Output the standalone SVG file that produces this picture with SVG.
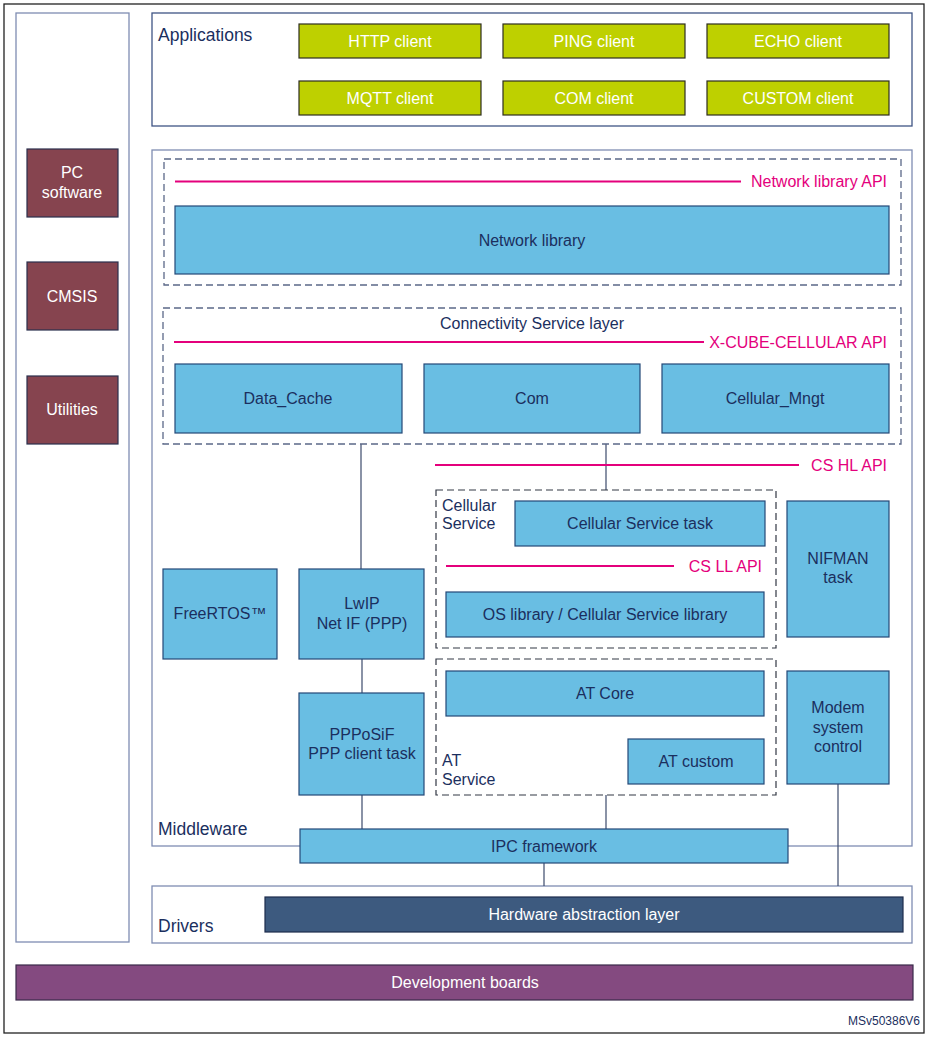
<svg xmlns="http://www.w3.org/2000/svg" width="929" height="1037" viewBox="0 0 929 1037">
<style>
text{font-family:"Liberation Sans",Arial,sans-serif;font-size:16px;fill:#1b2f5e}
.c{text-anchor:middle}
.e{text-anchor:end}
.w{fill:#ffffff}
.p{fill:#e4007c}
.big{font-size:17.5px}
.cont{fill:#ffffff;stroke:#7f8db2;stroke-width:1.3}
.app{fill:#ffffff;stroke:#3f5585;stroke-width:1.3}
.dash{fill:none;stroke:#5b6888;stroke-width:1.3;stroke-dasharray:7 4}
.dashk{fill:none;stroke:#333844;stroke-width:1.2;stroke-dasharray:7 4}
.blue{fill:#69bee3;stroke:#234877;stroke-width:1.2}
.green{fill:#bed000;stroke:#2e2e1e;stroke-width:1.2}
.mar{fill:#86444f;stroke:#2b2f4d;stroke-width:1.2}
.api{stroke:#e4007c;stroke-width:2}
.ln{stroke:#3c4a6c;stroke-width:1.2;fill:none}
</style>
<rect x="4" y="4" width="920" height="1029" fill="#ffffff" stroke="#222" stroke-width="1.3"/>

<g id="left-panel">
<rect x="16" y="13" width="113" height="929" class="cont"/>
</g>
<g id="pc-software"><rect x="27" y="149" width="91" height="68" class="mar"/><text class="c w" x="72" y="178">PC</text><text class="c w" x="72" y="198">software</text></g>
<g id="cmsis"><rect x="27" y="262" width="91" height="68" class="mar"/><text class="c w" x="72" y="302">CMSIS</text></g>
<g id="utilities"><rect x="27" y="376" width="91" height="68" class="mar"/><text class="c w" x="72" y="415">Utilities</text></g>

<g id="applications">
<rect x="152" y="13" width="760" height="113" class="app"/>
<text class="big" x="158" y="41">Applications</text>
</g>
<g id="http"><rect x="299" y="24" width="182" height="34" class="green"/><text class="c w" x="390" y="47">HTTP client</text></g>
<g id="ping"><rect x="503" y="24" width="182" height="34" class="green"/><text class="c w" x="594" y="47">PING client</text></g>
<g id="echo"><rect x="707" y="24" width="182" height="34" class="green"/><text class="c w" x="798" y="47">ECHO client</text></g>
<g id="mqtt"><rect x="299" y="81" width="182" height="34" class="green"/><text class="c w" x="390" y="104">MQTT client</text></g>
<g id="com-client"><rect x="503" y="81" width="182" height="34" class="green"/><text class="c w" x="594" y="104">COM client</text></g>
<g id="custom"><rect x="707" y="81" width="182" height="34" class="green"/><text class="c w" x="798" y="104">CUSTOM client</text></g>

<g id="middleware">
<rect x="152" y="150" width="760" height="696" class="cont"/>
<text class="big" x="158" y="835">Middleware</text>
</g>

<g id="drivers">
<rect x="152" y="886" width="760" height="57" class="cont"/>
<text class="big" x="158" y="932">Drivers</text>
</g>

<g id="connectors">
<line x1="361" y1="444" x2="361" y2="569" class="ln"/>
<line x1="606" y1="444" x2="606" y2="490" class="ln"/>
<line x1="362" y1="659" x2="362" y2="693" class="ln"/>
<line x1="362" y1="795" x2="362" y2="829" class="ln"/>
<line x1="606" y1="795" x2="606" y2="829" class="ln"/>
<line x1="544" y1="863" x2="544" y2="886" class="ln"/>
<line x1="838" y1="784" x2="838" y2="886" class="ln"/>
</g>

<g id="network-library-layer">
<rect x="164" y="159" width="737" height="126" class="dash"/>
<line x1="175" y1="181.5" x2="741" y2="181.5" class="api"/>
<text class="e p" x="887" y="187">Network library API</text>
</g>
<g id="network-library"><rect x="175" y="206" width="714" height="68" class="blue"/><text class="c" x="532" y="245.5">Network library</text></g>

<g id="connectivity-service-layer">
<rect x="163" y="308" width="738" height="136" class="dash"/>
<text class="c" x="532" y="328.5">Connectivity Service layer</text>
<line x1="174" y1="342" x2="704" y2="342" class="api"/>
<text class="e p" x="887" y="347.5">X-CUBE-CELLULAR API</text>
</g>
<g id="data-cache"><rect x="175" y="364" width="227" height="69" class="blue"/><text class="c" x="288" y="403.5">Data_Cache</text></g>
<g id="com"><rect x="424" y="364" width="216" height="69" class="blue"/><text class="c" x="532" y="403.5">Com</text></g>
<g id="cellular-mngt"><rect x="662" y="364" width="227" height="69" class="blue"/><text class="c" x="775" y="403.5">Cellular_Mngt</text></g>

<g id="cs-hl-api">
<line x1="435" y1="465" x2="799" y2="465" class="api"/>
<text class="e p" x="887" y="470.5">CS HL API</text>
</g>

<g id="cellular-service">
<rect x="436" y="490" width="340" height="158" class="dashk"/>
<text x="442" y="510.5">Cellular</text>
<text x="442" y="529">Service</text>
<line x1="446" y1="566" x2="674" y2="566" class="api"/>
<text class="e p" x="762" y="571.5">CS LL API</text>
</g>
<g id="cellular-service-task"><rect x="515" y="501" width="250" height="45" class="blue"/><text class="c" x="640" y="528.5">Cellular Service task</text></g>
<g id="os-library"><rect x="446" y="592" width="318" height="45" class="blue"/><text class="c" x="605" y="619.5">OS library / Cellular Service library</text></g>

<g id="nifman"><rect x="787" y="501" width="102" height="136" class="blue"/><text class="c" x="838" y="563.5">NIFMAN</text><text class="c" x="838" y="583">task</text></g>

<g id="freertos"><rect x="163" y="569" width="114" height="90" class="blue"/><text class="c" x="220" y="618.5">FreeRTOS™</text></g>
<g id="lwip"><rect x="299" y="569" width="125" height="90" class="blue"/><text class="c" x="362" y="608.5">LwIP</text><text class="c" x="362" y="628.5">Net IF (PPP)</text></g>
<g id="ppposif"><rect x="299" y="693" width="125" height="102" class="blue"/><text class="c" x="362" y="739.5">PPPoSiF</text><text class="c" x="362" y="758.5">PPP client task</text></g>

<g id="at-service">
<rect x="436" y="659" width="340" height="136" class="dashk"/>
<text x="442" y="766">AT</text>
<text x="442" y="785">Service</text>
</g>
<g id="at-core"><rect x="446" y="671" width="318" height="45" class="blue"/><text class="c" x="605" y="698.5">AT Core</text></g>
<g id="at-custom"><rect x="628" y="739" width="136" height="45" class="blue"/><text class="c" x="696" y="766.5">AT custom</text></g>

<g id="modem"><rect x="787" y="671" width="102" height="113" class="blue"/><text class="c" x="838" y="713">Modem</text><text class="c" x="838" y="732.5">system</text><text class="c" x="838" y="752">control</text></g>

<g id="ipc"><rect x="300" y="829" width="488" height="34" class="blue"/><text class="c" x="544" y="851.5">IPC framework</text></g>

<g id="hal"><rect x="265" y="897" width="638" height="35" fill="#3d5a7f" stroke="#1d2c4c" stroke-width="1.2"/><text class="c w" x="584" y="919.5">Hardware abstraction layer</text></g>

<g id="dev-boards"><rect x="16" y="965" width="897" height="35" fill="#844a80" stroke="#3a2a4a" stroke-width="1.2"/><text class="c w" x="465" y="987.5">Development boards</text></g>

<text class="e" x="920" y="1025" style="font-size:12px;fill:#1b2f5e">MSv50386V6</text>
</svg>
